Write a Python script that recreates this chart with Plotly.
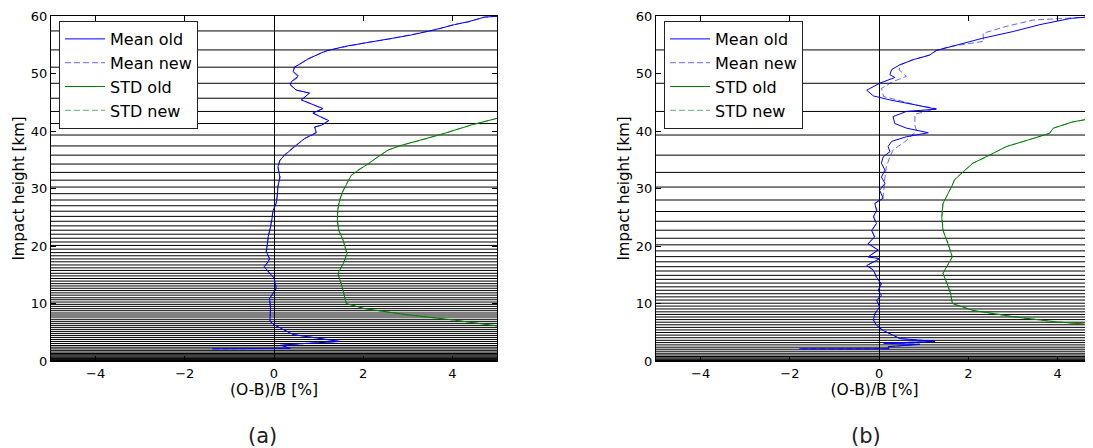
import plotly.graph_objects as go

# ---------------- data ----------------
xlim_a = [-5, 5]
xlim_b = [-5, 4.79]
ylim = [0, 60]
x_ticks = [-4, -2, 0, 2, 4]
y_ticks = [0, 10, 20, 30, 40, 50, 60]

# model level heights [km] drawn as horizontal lines
levels_a = [57.4, 54.1, 51.1, 48.3, 45.7, 43.4, 41.3, 39.3, 37.4, 35.8, 34.25, 32.8,
            31.45, 30.25, 29.1, 28.0, 27.0, 26.05, 25.15, 24.3, 23.5, 22.75, 22.05,
            21.35, 20.7, 20.1, 19.45, 18.85, 18.3, 17.75, 17.25, 16.7, 16.2, 15.75,
            15.25, 14.8, 14.35, 13.9, 13.45, 13.05, 12.65, 12.25, 11.85, 11.45, 11.0,
            10.65, 10.25, 9.85, 9.5, 9.1, 8.75, 8.35, 8.0, 7.65, 7.25, 6.9, 6.55, 6.2,
            5.85, 5.5, 5.15, 4.8, 4.45, 4.1, 3.75, 3.4, 3.05, 2.7, 2.4, 2.1, 1.8, 1.55,
            1.3, 1.1, 0.9, 0.72, 0.56, 0.42, 0.3, 0.2, 0.12, 0.05, 0.01]
levels_b = [54.1, 48.3, 43.4, 39.3, 35.8, 32.8, 30.25, 28.0, 26.0, 24.3, 22.75, 21.35,
            20.2, 19.15, 18.15, 17.25, 16.4, 15.65, 14.9, 14.2, 13.55, 12.9, 12.3, 11.7,
            11.15, 10.6, 10.05, 9.55, 9.05, 8.55, 8.1, 7.65, 7.2, 6.75, 6.3, 5.85, 5.4,
            4.95, 4.5, 4.05, 3.6, 3.2, 2.8, 2.4, 2.05, 1.7, 1.35, 1.05, 0.78, 0.55, 0.36,
            0.21, 0.1, 0.03]

# panel (a)
mean_old_a_h = [59.95, 59.8, 59.0, 58.5, 57.6, 56.7, 56.0, 55.3, 54.7, 54.0, 53.6, 52.5,
                51.8, 51.1, 50.3, 49.5, 48.6, 48.0, 47.1, 46.6, 45.4, 43.9, 43.1, 41.8,
                41.0, 40.7, 39.7, 39.3, 38.7, 37.8, 37.3, 36.4, 35.8, 34.9, 33.8, 32.0,
                30.3, 28.5, 27.4, 26.2, 23.9, 21.6, 19.6, 19.0, 17.8, 17.3, 16.4, 15.5,
                14.4, 12.6, 10.9, 9.2, 6.9, 6.3, 5.5, 4.6, 4.0, 3.6, 3.4, 3.05, 2.75,
                2.2, 2.12]
mean_old_a_x = [5.0, 4.72, 4.35, 4.05, 3.6, 3.08, 2.56, 2.03, 1.58, 1.21, 1.06, 0.76,
                0.61, 0.46, 0.43, 0.54, 0.39, 0.37, 0.5, 0.8, 0.61, 1.1, 0.87, 1.23,
                1.06, 0.91, 0.95, 0.84, 0.69, 0.54, 0.46, 0.31, 0.24, 0.13, 0.09, 0.13,
                0.09, 0.07, 0.05, -0.02, -0.06, -0.13, -0.16, -0.17, -0.1, -0.13, -0.22,
                -0.13, 0.0, 0.05, -0.1, -0.08, -0.09, 0.0, 0.2, 0.43, 0.96, 1.34, 1.48,
                0.7, 0.15, 0.36, -1.39]
mean_new_a_h = [59.95, 59.8, 59.0, 58.5, 57.6, 56.7, 56.0, 55.3, 54.7, 54.0, 53.6, 52.5,
                51.8, 51.1, 50.3, 49.5, 48.6, 48.0, 47.1, 46.6, 45.4, 43.9, 43.1, 41.8,
                41.0, 40.7, 39.7, 39.3, 38.7, 37.8, 37.3, 36.4, 35.8, 34.9, 33.8, 32.0,
                30.3, 28.5, 27.4, 26.2, 23.9, 21.6, 19.6, 19.0, 17.8, 17.3, 16.4, 15.5,
                14.4, 12.6, 10.9, 9.2, 6.9, 6.3, 5.5, 4.6, 4.0, 3.6, 3.4, 3.05, 2.75,
                2.2, 2.12]
mean_new_a_x = [5.0, 4.70, 4.38, 4.02, 3.63, 3.06, 2.58, 2.01, 1.6, 1.2, 1.08, 0.74,
                0.62, 0.45, 0.44, 0.57, 0.4, 0.36, 0.52, 0.78, 0.63, 1.08, 0.89, 1.21,
                1.08, 0.92, 0.93, 0.85, 0.68, 0.55, 0.45, 0.32, 0.23, 0.14, 0.08, 0.14,
                0.08, 0.07, 0.04, -0.02, -0.07, -0.12, -0.16, -0.18, -0.1, -0.12, -0.21,
                -0.13, 0.01, 0.05, -0.09, -0.08, -0.09, 0.0, 0.21, 0.44, 0.95, 1.35, 1.47,
                0.71, 0.15, 0.37, -1.39]
std_old_a_h = [42.2, 41.05, 39.6, 38.4, 37.5, 36.7, 35.5, 34.4, 33.2, 32.3, 31.2, 29.7,
               27.9, 26.2, 24.5, 22.7, 21.0, 18.7, 16.9, 15.2, 13.4, 11.7, 10.0, 9.1,
               8.1, 7.1, 6.1]
std_old_a_x = [5.0, 4.42, 3.83, 3.3, 2.85, 2.56, 2.33, 2.14, 1.88, 1.73, 1.66, 1.55,
               1.47, 1.43, 1.42, 1.45, 1.55, 1.64, 1.55, 1.43, 1.51, 1.57, 1.62, 2.03,
               2.93, 4.05, 5.0]
std_new_a_h = [42.2, 41.05, 39.6, 38.4, 37.5, 36.7, 35.5, 34.4, 33.2, 32.3, 31.2, 29.7,
               27.9, 26.2, 24.5, 22.7, 21.0, 18.7, 16.9, 15.2, 13.4, 11.7, 10.0, 9.1,
               8.1, 7.1, 6.1]
std_new_a_x = [5.0, 4.43, 3.82, 3.31, 2.84, 2.57, 2.32, 2.15, 1.87, 1.74, 1.65, 1.56,
               1.46, 1.43, 1.42, 1.46, 1.55, 1.63, 1.55, 1.44, 1.51, 1.57, 1.62, 2.04,
               2.92, 4.06, 5.0]

# panel (b)
mean_old_b_h = [59.95, 59.6, 58.5, 57.3, 56.1, 55.3, 54.6, 54.0, 53.2, 52.4, 51.5, 50.7,
                49.8, 49.3, 48.3, 47.1, 46.1, 45.4, 44.5, 43.8, 43.4, 42.5, 41.3, 40.5,
                39.7, 39.0, 38.2, 37.3, 36.4, 35.5, 34.4, 33.2, 32.0, 30.9, 29.7, 28.3,
                27.4, 26.2, 25.1, 23.9, 22.7, 21.6, 20.4, 19.3, 18.1, 17.8, 16.6, 15.8,
                14.6, 13.4, 12.3, 11.4, 10.6, 9.4, 8.2, 7.1, 6.2, 5.3, 4.5, 3.9, 3.41,
                3.1, 2.9, 2.5, 2.14, 2.12]
mean_old_b_x = [4.9, 4.3, 3.6, 3.0, 2.3, 1.9, 1.55, 1.28, 1.13, 0.76, 0.46, 0.28,
                0.24, 0.35, 0.01, -0.28, -0.13, 0.24, 0.84, 1.28, 0.61, 0.31, 0.35, 0.61,
                1.1, 0.61, 0.28, 0.2, 0.24, 0.09, 0.05, 0.13, 0.05, 0.13, 0.01, 0.09,
                -0.1, -0.06, -0.13, -0.06, -0.17, -0.1, -0.25, -0.02, -0.25, 0.01, -0.28,
                -0.13, -0.06, 0.05, -0.02, 0.05, -0.06, 0.01, -0.1, -0.13, -0.06, 0.09,
                0.31, 0.46, 1.25, 0.1, 0.91, 0.2, 0.22, -1.79]
mean_new_b_h = [59.95, 59.8, 59.3, 58.2, 57.0, 56.3, 55.6, 55.3, 54.7, 54.0, 53.2, 52.4,
                51.5, 50.6, 49.5, 48.6, 47.4, 46.0, 44.5, 43.9, 42.9, 41.0, 40.0, 38.1,
                36.7, 35.5, 33.8, 32.0, 28.6, 27.4, 26.2, 25.1, 23.9, 22.7, 21.6, 20.4,
                19.3, 18.1, 17.8, 16.6, 15.8, 14.6, 13.4, 12.3, 11.4, 10.6, 9.4, 8.2,
                7.1, 6.2, 5.3, 4.5, 3.9, 3.41, 3.1, 2.9, 2.5, 2.14, 2.12]
mean_new_b_x = [4.9, 4.64, 3.45, 2.85, 2.33, 2.33, 2.35, 2.08, 1.58, 1.28, 1.13, 0.76,
                0.46, 0.45, 0.61, 0.31, 0.05, 0.1, 0.84, 1.28, 0.8, 0.8, 0.84, 0.57,
                0.31, 0.24, 0.16, 0.13, 0.09, -0.09, -0.05, -0.12, -0.07, -0.16, -0.11,
                -0.24, -0.03, -0.24, 0.0, -0.27, -0.12, -0.07, 0.04, -0.02, 0.05, -0.05,
                0.01, -0.1, -0.12, -0.06, 0.09, 0.3, 0.47, 1.24, 0.11, 0.9, 0.2, 0.22,
                -1.79]
std_old_b_h = [42.5, 41.6, 40.5, 39.6, 38.7, 37.3, 36.1, 35.5, 34.4, 32.9, 31.5, 30.3,
               28.6, 27.4, 25.1, 22.7, 20.4, 18.1, 16.4, 15.2, 13.5, 11.7, 10.0, 8.8,
               7.7, 6.8, 6.3, 6.15]
std_old_b_x = [5.0, 4.34, 3.9, 3.82, 3.45, 2.85, 2.55, 2.4, 2.1, 1.88, 1.69, 1.62,
               1.51, 1.43, 1.4, 1.43, 1.54, 1.64, 1.51, 1.43, 1.52, 1.6, 1.64, 2.1,
               3.0, 3.97, 4.79, 5.0]
std_new_b_h = [42.5, 41.6, 40.5, 39.6, 38.7, 37.3, 36.1, 35.5, 34.4, 32.9, 31.5, 30.3,
               28.6, 27.4, 25.1, 22.7, 20.4, 18.1, 16.4, 15.2, 13.5, 11.7, 10.0, 8.8,
               7.7, 6.8, 6.3, 6.15]
std_new_b_x = [5.0, 4.35, 3.91, 3.81, 3.44, 2.86, 2.54, 2.41, 2.09, 1.89, 1.68, 1.62,
               1.5, 1.43, 1.41, 1.43, 1.55, 1.63, 1.52, 1.43, 1.52, 1.6, 1.64, 2.11,
               3.01, 3.96, 4.79, 5.0]

series_names = ["Mean old", "Mean new", "STD old", "STD new"]
panel_labels = ["(a)", "(b)"]
x_title = "(O-B)/B [%]"
y_title = "Impact height [km]"

# ---------------- figure ----------------
# the page body has an 8px margin, so the figure is 8px smaller and all
# pixel positions below are given in window pixels minus 8
OFF = 8
W, H = 1093 - OFF, 448 - OFF
ML, MR, MT = 51 - OFF, 0, 16 - OFF
MB = H - (361 - OFF)
PW = W - ML - MR
PH = H - MT - MB

FONT = "DejaVu Sans"
BLUE = "#0000ff"
BLUE_NEW = "rgba(0,0,255,0.6)"
GREEN = "#008000"
GREEN_NEW = "rgba(0,128,0,0.6)"


def px_x(xw):
    return (xw - OFF - ML) / PW


def px_y(yw):
    return 1 - (yw - OFF - MT) / PH


def level_trace(levels, xr, xa, ya):
    xs, ys = [], []
    for lv in levels:
        xs += [xr[0], xr[1], None]
        ys += [lv, lv, None]
    return go.Scatter(x=xs, y=ys, mode="lines", xaxis=xa, yaxis=ya,
                      line=dict(color="black", width=1), showlegend=False,
                      hoverinfo="skip")


fig = go.Figure()
panels = [
    ("x", "y", "legend", levels_a, [-5, 5],
     [(mean_old_a_x, mean_old_a_h), (mean_new_a_x, mean_new_a_h),
      (std_old_a_x, std_old_a_h), (std_new_a_x, std_new_a_h)]),
    ("x2", "y2", "legend2", levels_b, [-5, 5],
     [(mean_old_b_x, mean_old_b_h), (mean_new_b_x, mean_new_b_h),
      (std_old_b_x, std_old_b_h), (std_new_b_x, std_new_b_h)]),
]
styles = [dict(color=BLUE, width=1), dict(color=BLUE_NEW, width=1, dash="6px,3px"),
          dict(color=GREEN, width=1), dict(color=GREEN_NEW, width=1, dash="6px,3px")]

for xa, ya, lg, levels, xr, data in panels:
    fig.add_trace(level_trace(levels, xr, xa, ya))
    for name, (xs, hs), st in zip(series_names, data, styles):
        fig.add_trace(go.Scatter(x=xs, y=hs, mode="lines", name=name, xaxis=xa,
                                 yaxis=ya, line=st, legend=lg))

axis_common = dict(showline=True, linecolor="black", linewidth=1, mirror="ticks",
                   ticks="inside", ticklen=5, tickcolor="black", tickwidth=1,
                   showgrid=False, tickfont=dict(family=FONT, size=13, color="black"))
xtitle_font = dict(family=FONT, size=15.5, color="black")
ytitle_font = dict(family=FONT, size=15, color="black")

dom_a = [0, px_x(497)]
dom_b = [px_x(656), 1]

legend_common = dict(xanchor="left", yanchor="top", bgcolor="white",
                     bordercolor="#222222", borderwidth=1, itemwidth=40,
                     font=dict(family=FONT, size=16, color="black"))

fig.update_layout(
    width=W, height=H,
    margin=dict(l=ML, r=MR, t=MT, b=MB),
    paper_bgcolor="white", plot_bgcolor="white",
    font=dict(family=FONT, color="black"),
    xaxis=dict(axis_common, domain=dom_a, range=xlim_a, tickvals=x_ticks,
               zeroline=True, zerolinecolor="black", zerolinewidth=1,
               title=dict(text=x_title, standoff=4, font=xtitle_font), anchor="y"),
    yaxis=dict(axis_common, domain=[0, 1], range=ylim, tickvals=y_ticks,
               zeroline=False, title=dict(text=y_title, standoff=2, font=ytitle_font),
               anchor="x"),
    xaxis2=dict(axis_common, domain=dom_b, range=xlim_b, tickvals=x_ticks,
                zeroline=True, zerolinecolor="black", zerolinewidth=1,
                title=dict(text=x_title, standoff=4, font=xtitle_font), anchor="y2"),
    yaxis2=dict(axis_common, domain=[0, 1], range=ylim, tickvals=y_ticks,
                zeroline=False, title=dict(text=y_title, standoff=2, font=ytitle_font),
                anchor="x2"),
    legend=dict(legend_common, x=px_x(59), y=px_y(21)),
    legend2=dict(legend_common, x=px_x(664), y=px_y(21)),
    showlegend=True,
)

for lab, cx in zip(panel_labels, [262, 866]):
    fig.add_annotation(text=lab, xref="paper", yref="paper", x=px_x(cx),
                       y=px_y(436), xanchor="center", yanchor="middle",
                       showarrow=False, font=dict(family=FONT, size=21, color="#222222"))

fig.write_html("out.html")
